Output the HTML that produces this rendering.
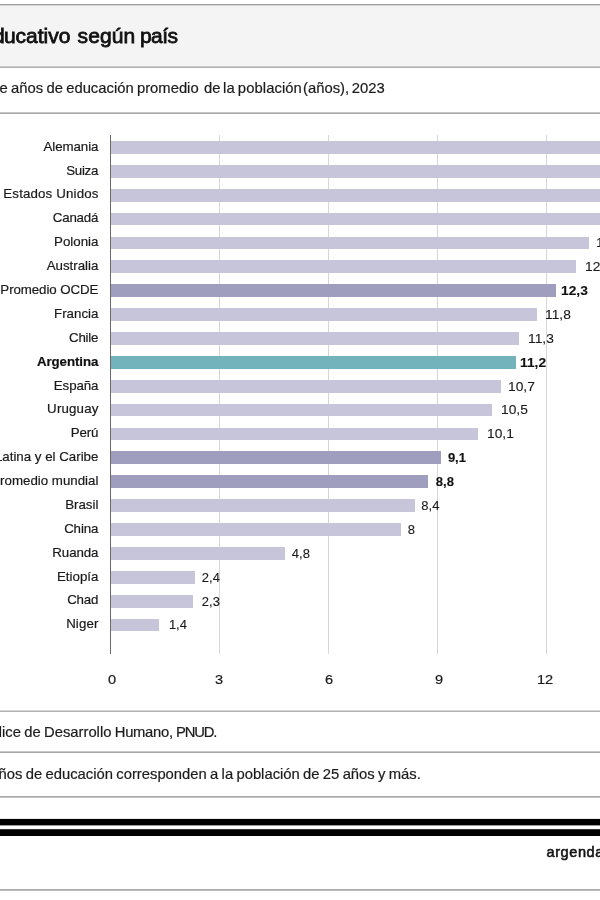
<!DOCTYPE html>
<html lang="es"><head><meta charset="utf-8"><title>Nivel educativo según país</title>
<style>
html,body{margin:0;padding:0;background:#fff;}
body{width:600px;height:900px;position:relative;overflow:hidden;font-family:"Liberation Sans",Arial,sans-serif;color:#1a1a1a;}
.hl{position:absolute;left:0;width:600px;height:1px;background:#b2b2b2;}
.hdr{position:absolute;left:0;top:5px;width:600px;height:61px;background:#f4f4f4;}
.pre{position:absolute;right:100%;top:0;white-space:pre;}
.title{position:absolute;white-space:nowrap;font-size:21px;line-height:24px;color:#111;-webkit-text-stroke:0.8px #111;}
.sub{position:absolute;white-space:nowrap;font-size:14.8px;line-height:18px;word-spacing:-0.8px;color:#1c1c1c;-webkit-text-stroke:0.2px #1c1c1c;}
.lab{position:absolute;white-space:nowrap;font-size:13.3px;line-height:16px;text-align:right;right:501.6px;color:#1a1a1a;-webkit-text-stroke:0.2px #1a1a1a;}
.val{position:absolute;white-space:nowrap;font-size:13px;line-height:16px;color:#1a1a1a;-webkit-text-stroke:0.12px #1a1a1a;transform-origin:0 50%;}
.b{font-weight:bold;color:#111;}
.bar{position:absolute;left:111px;}
.grid{position:absolute;top:135px;width:1px;height:519px;background:#d6d6d6;}
.axis{position:absolute;top:135px;left:109.5px;width:1px;height:519px;background:#6a6a6a;}
.tick{position:absolute;white-space:nowrap;font-size:13px;line-height:16px;top:671.7px;width:40px;text-align:center;color:#1a1a1a;-webkit-text-stroke:0.2px #1a1a1a;transform:scaleX(1.12);}
.stripe{position:absolute;left:0;width:600px;background:#000;}
.logo{position:absolute;white-space:nowrap;font-size:14.5px;line-height:18px;letter-spacing:0.6px;color:#111;-webkit-text-stroke:0.55px #111;}
</style></head><body>
<div class="hdr"></div>
<div class="hl" style="top:4px;background:#9e9e9e"></div>
<div class="hl" style="top:5px;background:#d6d6d6"></div>
<div class="hl" style="top:66px;background:#cacaca"></div>
<div class="hl" style="top:67px;background:#b0b0b0"></div>
<div class="hl" style="top:112px;background:#c6c6c6"></div>
<div class="hl" style="top:113px;background:#a8a8a8"></div>
<div class="title" id="title" style="left:3.9px;top:23.7px"><span class="pre" style="margin-right:-0.7px">Nivel ed</span>ucativo <span style="margin-left:1.3px;letter-spacing:0.1px">según</span> <span style="margin-left:-1.1px;letter-spacing:-0.6px">país</span></div>
<div class="sub" id="sub" style="left:11px;top:79px"><span class="pre">Cantidad de </span>años de educación promedio <span style="position:relative;left:2px">de</span> <span style="position:relative;left:1.4px">la</span> <span style="position:relative;left:1.3px;letter-spacing:0.08px;margin-right:-0.08px">población</span> <span style="position:relative;left:-0.8px">(años), <span style="position:relative;left:-0.6px">2023</span></span></div>

<div class="grid" style="left:219px"></div>
<div class="grid" style="left:328px"></div>
<div class="grid" style="left:437px"></div>
<div class="grid" style="left:546px"></div>
<div class="axis"></div>
<div class="bar" style="top:141.00px;width:529.0px;height:12.8px;background:#c6c5da"></div>
<div class="lab" id="l0" style="top:138.70px;letter-spacing:-0.07px;margin-right:0.07px">Alemania</div>
<div class="bar" style="top:164.88px;width:529.0px;height:12.8px;background:#c6c5da"></div>
<div class="lab" id="l1" style="top:162.58px;letter-spacing:-0.25px;margin-right:0.25px">Suiza</div>
<div class="bar" style="top:188.76px;width:529.0px;height:12.8px;background:#c6c5da"></div>
<div class="lab" id="l2" style="top:186.46px;letter-spacing:0.15px;margin-right:-0.15px">Estados Unidos</div>
<div class="bar" style="top:212.64px;width:529.0px;height:12.8px;background:#c6c5da"></div>
<div class="lab" id="l3" style="top:210.34px;letter-spacing:-0.20px;margin-right:0.20px">Canadá</div>
<div class="bar" style="top:236.52px;width:478.0px;height:12.8px;background:#c6c5da"></div>
<div class="lab" id="l4" style="top:234.22px">Polonia</div>
<div class="val" id="v4" style="left:596.0px;top:235.32px;transform:scaleX(1.06)">13,2</div>
<div class="bar" style="top:260.40px;width:465.0px;height:12.8px;background:#c6c5da"></div>
<div class="lab" id="l5" style="top:258.10px">Australia</div>
<div class="val" id="v5" style="left:585.1px;top:259.20px;transform:scaleX(1.06)">12,8</div>
<div class="bar" style="top:284.28px;width:445.0px;height:12.8px;background:#9f9ebf"></div>
<div class="lab" id="l6" style="top:281.98px;letter-spacing:-0.08px;margin-right:0.08px">Promedio OCDE</div>
<div class="val b" id="v6" style="left:561.4px;top:283.08px;transform:scaleX(1.06)">12,3</div>
<div class="bar" style="top:308.16px;width:426.0px;height:12.8px;background:#c6c5da"></div>
<div class="lab" id="l7" style="top:305.86px;letter-spacing:-0.00px;margin-right:0.00px">Francia</div>
<div class="val" id="v7" style="left:545.0px;top:306.96px;transform:scaleX(1.06)">11,8</div>
<div class="bar" style="top:332.04px;width:408.4px;height:12.8px;background:#c6c5da"></div>
<div class="lab" id="l8" style="top:329.74px;letter-spacing:-0.25px;margin-right:0.25px">Chile</div>
<div class="val" id="v8" style="left:528.4px;top:330.84px;transform:scaleX(1.06)">11,3</div>
<div class="bar" style="top:355.92px;width:405.0px;height:12.8px;background:#72b3bc"></div>
<div class="lab b" id="l9" style="top:353.62px;letter-spacing:-0.07px;margin-right:0.07px">Argentina</div>
<div class="val b" id="v9" style="left:519.6px;top:354.72px;transform:scaleX(1.06)">11,2</div>
<div class="bar" style="top:379.80px;width:389.6px;height:12.8px;background:#c6c5da"></div>
<div class="lab" id="l10" style="top:377.50px;letter-spacing:-0.10px;margin-right:0.10px">España</div>
<div class="val" id="v10" style="left:508.0px;top:378.60px;transform:scaleX(1.06)">10,7</div>
<div class="bar" style="top:403.68px;width:381.0px;height:12.8px;background:#c6c5da"></div>
<div class="lab" id="l11" style="top:401.38px;letter-spacing:0.17px;margin-right:-0.17px">Uruguay</div>
<div class="val" id="v11" style="left:500.5px;top:402.48px;transform:scaleX(1.06)">10,5</div>
<div class="bar" style="top:427.56px;width:367.0px;height:12.8px;background:#c6c5da"></div>
<div class="lab" id="l12" style="top:425.26px;letter-spacing:-0.17px;margin-right:0.17px">Perú</div>
<div class="val" id="v12" style="left:487.1px;top:426.36px;transform:scaleX(1.06)">10,1</div>
<div class="bar" style="top:451.44px;width:329.8px;height:12.8px;background:#9f9ebf"></div>
<div class="lab" id="l13" style="top:449.14px">América Latina y el Caribe</div>
<div class="val b" id="v13" style="left:447.9px;top:450.24px;transform:scaleX(1.0)">9,1</div>
<div class="bar" style="top:475.32px;width:317.0px;height:12.8px;background:#9f9ebf"></div>
<div class="lab" id="l14" style="top:473.02px">Promedio mundial</div>
<div class="val b" id="v14" style="left:435.8px;top:474.12px;transform:scaleX(1.0)">8,8</div>
<div class="bar" style="top:499.20px;width:304.0px;height:12.8px;background:#c6c5da"></div>
<div class="lab" id="l15" style="top:496.90px">Brasil</div>
<div class="val" id="v15" style="left:421.3px;top:498.00px;transform:scaleX(1.0)">8,4</div>
<div class="bar" style="top:523.08px;width:290.3px;height:12.8px;background:#c6c5da"></div>
<div class="lab" id="l16" style="top:520.78px;letter-spacing:-0.12px;margin-right:0.12px">China</div>
<div class="val" id="v16" style="left:407.8px;top:521.88px;transform:scaleX(1.0)">8</div>
<div class="bar" style="top:546.96px;width:173.8px;height:12.8px;background:#c6c5da"></div>
<div class="lab" id="l17" style="top:544.66px;letter-spacing:-0.10px;margin-right:0.10px">Ruanda</div>
<div class="val" id="v17" style="left:291.8px;top:545.76px;transform:scaleX(1.0)">4,8</div>
<div class="bar" style="top:570.84px;width:84.2px;height:12.8px;background:#c6c5da"></div>
<div class="lab" id="l18" style="top:568.54px;letter-spacing:-0.00px;margin-right:0.00px">Etiopía</div>
<div class="val" id="v18" style="left:201.8px;top:569.64px;transform:scaleX(1.0)">2,4</div>
<div class="bar" style="top:594.72px;width:81.8px;height:12.8px;background:#c6c5da"></div>
<div class="lab" id="l19" style="top:592.42px;letter-spacing:-0.17px;margin-right:0.17px">Chad</div>
<div class="val" id="v19" style="left:201.8px;top:593.52px;transform:scaleX(1.0)">2,3</div>
<div class="bar" style="top:618.60px;width:48.3px;height:12.8px;background:#c6c5da"></div>
<div class="lab" id="l20" style="top:616.30px;letter-spacing:0.12px;margin-right:-0.12px">Niger</div>
<div class="val" id="v20" style="left:168.9px;top:617.40px;transform:scaleX(1.0)">1,4</div>
<div class="tick" id="t0" style="left:92.1px">0</div>
<div class="tick" id="t3" style="left:198.9px">3</div>
<div class="tick" id="t6" style="left:309.4px">6</div>
<div class="tick" id="t9" style="left:418.5px">9</div>
<div class="tick" id="t12" style="left:525.0px">12</div>
<div class="tick" id="t15" style="left:635.0px">15</div>
<div class="hl" style="top:710px;background:#d6d6d6"></div>
<div class="hl" style="top:711px;background:#b2b2b2"></div>
<div class="sub" id="f1" style="left:2px;top:723px"><span class="pre">Fuente: Índ</span>ice de Desarrollo <span style="letter-spacing:-0.3px">Humano,</span> <span style="letter-spacing:-1.2px">PNUD.</span></div>
<div class="hl" style="top:751px;background:#c8c8c8"></div>
<div class="hl" style="top:752px;background:#a6a6a6"></div>
<div class="sub" id="f2" style="left:45.5px;top:765px"><span class="pre">Nota: los años de </span>educación corresponden a la población de 25 años y más.</div>
<div class="hl" style="top:796px;background:#a8a8a8"></div>
<div class="hl" style="top:797px;background:#c2c2c2"></div>
<div class="stripe" style="top:818px;height:1px;background:#e8e8e8"></div>
<div class="stripe" style="top:819px;height:6px"></div>
<div class="stripe" style="top:825px;height:1px;background:#999"></div>
<div class="stripe" style="top:829px;height:1px;background:#333"></div>
<div class="stripe" style="top:830px;height:6px"></div>
<div class="logo" id="logo" style="left:546.5px;top:843px">argendata</div>
<div class="hl" style="top:889px;background:#adadad"></div>
<div class="hl" style="top:890px;background:#bcbcbc"></div>
</body></html>
